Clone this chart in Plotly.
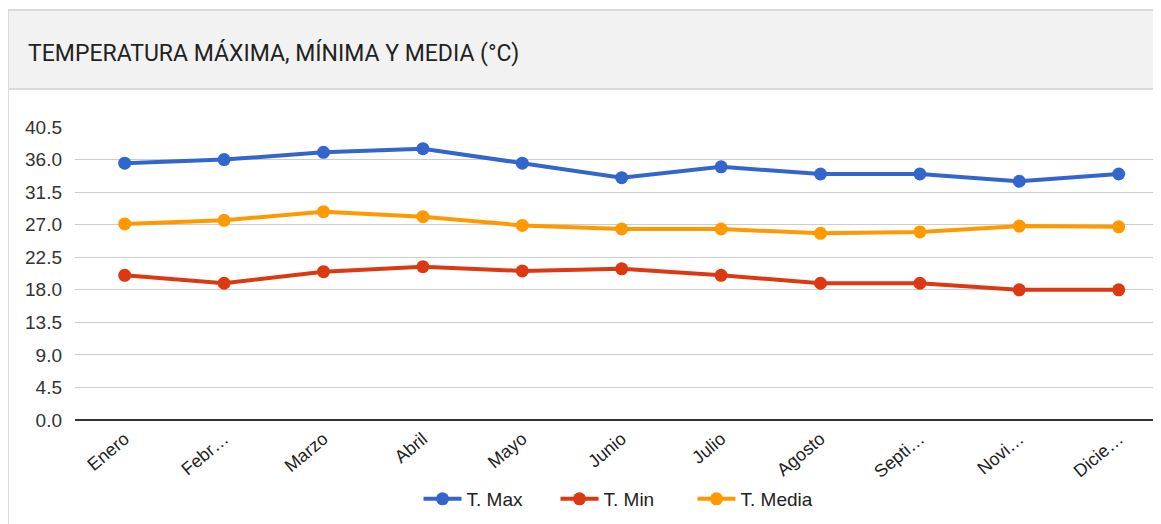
import plotly.graph_objects as go

months = ["Enero", "Febrero", "Marzo", "Abril", "Mayo", "Junio", "Julio",
          "Agosto", "Septiembre", "Noviembre", "Diciembre"]
month_labels = ["Enero", "Febr…", "Marzo", "Abril", "Mayo", "Junio", "Julio",
                "Agosto", "Septi…", "Novi…", "Dicie…"]
t_max = [35.5, 36.0, 37.0, 37.5, 35.5, 33.5, 35.0, 34.0, 34.0, 33.0, 34.0]
t_min = [20.0, 18.9, 20.5, 21.2, 20.6, 20.9, 20.0, 18.9, 18.9, 18.0, 18.0]
t_media = [27.1, 27.6, 28.8, 28.1, 26.9, 26.4, 26.4, 25.8, 26.0, 26.8, 26.7]
y_ticks = [0.0, 4.5, 9.0, 13.5, 18.0, 22.5, 27.0, 31.5, 36.0, 40.5]

# page body has an 8px margin, so the figure is drawn 8px in from the window
OFF = 8
W, H = 1161 - OFF, 524 - OFF
L, R, T, B = 75 - OFF, 0, 127 - OFF, H - (420 - OFF)
pw, ph = W - L - R, H - T - B


def px_x(px):
    # px is a window pixel
    return (px - OFF - L) / pw


def px_y(py):
    return (H - B - (py - OFF)) / ph


series = [("T. Max", t_max, "#3366cc"),
          ("T. Min", t_min, "#dc3912"),
          ("T. Media", t_media, "#ff9900")]

fig = go.Figure()
for name, vals, col in series:
    fig.add_trace(go.Scatter(
        x=months, y=vals, name=name, mode="lines+markers",
        line=dict(color=col, width=4),
        marker=dict(color=col, size=13),
        hoverinfo="skip",
    ))

fig.update_layout(
    width=W, height=H,
    margin=dict(l=L, r=R, t=T, b=B, pad=0),
    paper_bgcolor="white", plot_bgcolor="white",
    font=dict(family="Liberation Sans, Arial, sans-serif", size=19, color="#333333"),
    showlegend=True,
    legend=dict(orientation="h", x=px_x(624), xanchor="center", y=px_y(499), yanchor="middle",
                font=dict(size=19, color="#222222"), itemwidth=38,
                entrywidth=84, entrywidthmode="pixels",
                bgcolor="rgba(0,0,0,0)"),
    xaxis=dict(
        type="category", range=[-0.5, -0.5 + pw / 99.4],
        tickmode="array", tickvals=months, ticktext=month_labels,
        tickangle=-40, showgrid=False, showline=False, zeroline=False,
        ticks="", tickfont=dict(size=18, color="#222222"), ticklabelstandoff=4,
    ),
    yaxis=dict(
        range=[0, 40.5], tickmode="array", tickvals=y_ticks,
        ticktext=[f"{v:.1f}" for v in y_ticks],
        showgrid=True, gridcolor="#cccccc", gridwidth=1,
        zeroline=True, zerolinecolor="#333333", zerolinewidth=2,
        showline=False, ticks="", ticklabelstandoff=12,
        tickfont=dict(size=19, color="#333333"),
    ),
    shapes=[
        dict(type="rect", xref="paper", yref="paper",
             x0=px_x(OFF), x1=px_x(1161 + 20), y0=px_y(89), y1=px_y(10),
             fillcolor="#f2f2f2", line=dict(color="#dadada", width=2), layer="below"),
        dict(type="line", xref="paper", yref="paper",
             x0=px_x(OFF), x1=px_x(OFF), y0=px_y(10), y1=px_y(540),
             line=dict(color="#dadada", width=2)),
    ],
    annotations=[
        dict(text="TEMPERATURA MÁXIMA, MÍNIMA Y MEDIA (°C)", xref="paper", yref="paper",
             x=px_x(26), y=px_y(53), xanchor="left", yanchor="middle", showarrow=False,
             font=dict(family="Roboto, sans-serif", size=23, color="#222222")),
    ],
)

fig.write_html("out.html")
